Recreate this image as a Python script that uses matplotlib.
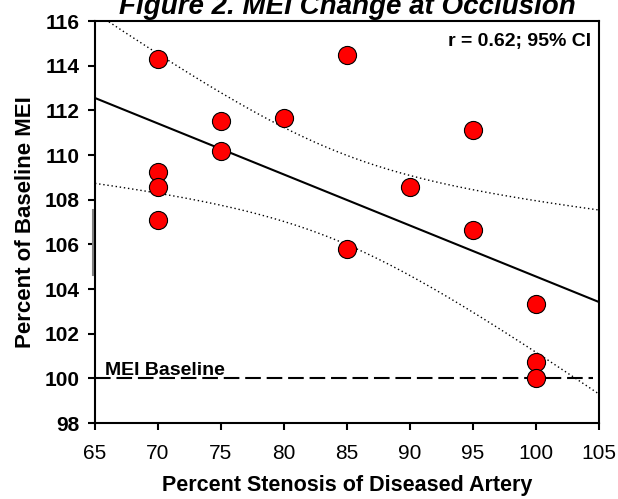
import numpy as np
import matplotlib
matplotlib.use('Agg')
import matplotlib.pyplot as plt
from matplotlib.lines import Line2D

plt.rcParams['font.family'] = ['Liberation Sans', 'DejaVu Sans']

# --- data ---
stenosis = [70, 70, 70, 70, 75, 75, 80, 85, 85, 90, 95, 95, 100, 100, 100]
mei_pct = [114.3, 109.24, 108.56, 107.08, 111.54, 110.18, 111.66, 114.48,
           105.8, 108.56, 111.12, 106.65, 103.32, 100.71, 100.0]
baseline = 100
x_ticks = [65, 70, 75, 80, 85, 90, 95, 100, 105]
y_ticks = [98, 100, 102, 104, 106, 108, 110, 112, 114, 116]

# --- linear fit and 95% confidence band ---
x = np.array(stenosis, dtype=float)
y = np.array(mei_pct, dtype=float)
n = len(x)
slope, intercept = np.polyfit(x, y, 1)
resid = y - (slope * x + intercept)
s = np.sqrt(np.sum(resid ** 2) / (n - 2))
sxx = np.sum((x - x.mean()) ** 2)
t_crit = 2.160  # t(0.975, df=13)
xf = np.linspace(65, 105, 200)
yf = slope * xf + intercept
half = t_crit * s * np.sqrt(1.0 / n + (xf - x.mean()) ** 2 / sxx)

fig = plt.figure(figsize=(6.18, 4.99), dpi=100)
ax = fig.add_axes([0.1537, 0.1523, 0.8155, 0.8056])

ax.plot(xf, yf, color='black', lw=1.5, zorder=2)
ax.plot(xf, yf + half, color='black', lw=1.0, ls=(0, (1, 2)), zorder=2)
ax.plot(xf, yf - half, color='black', lw=1.0, ls=(0, (1, 2)), zorder=2)
ax.axhline(baseline, xmin=0, xmax=0.988, color='black', lw=1.5, ls=(0, (7.5, 2.8)), zorder=1)
ax.scatter(x, y, s=170, color='red', edgecolor='black', linewidth=0.8, zorder=3, clip_on=False)

ax.text(65.8, 100.13, 'MEI Baseline', fontsize=14, fontweight='bold', va='baseline')
ax.text(104.37, 114.9, 'r = 0.62; 95% CI', fontsize=14, fontweight='bold', ha='right', va='baseline')

ax.set_xlim(65, 105)
ax.set_ylim(98, 116)
ax.set_xticks(x_ticks)
ax.set_yticks(y_ticks)
ax.tick_params(direction='out', length=5, width=1.5, labelsize=15)
ax.tick_params(axis='x', pad=10)
ax.tick_params(axis='y', pad=6)
for lab in ax.get_yticklabels():
    lab.set_fontweight('bold')
for sp in ax.spines.values():
    sp.set_linewidth(1.5)

ax.set_xlabel('Percent Stenosis of Diseased Artery', fontsize=15.5, fontweight='bold', labelpad=9)
ax.set_ylabel('Percent of Baseline MEI', fontsize=16, fontweight='bold', labelpad=6)

fig.text(0.562, 0.972, 'Figure 2. MEI Change at Occlusion', fontsize=20,
         fontweight='bold', fontstyle='italic', ha='center', va='baseline')

# small grey mark beside the y axis seen in the original
fig.add_artist(Line2D([0.1505, 0.1505], [0.449, 0.579], color='grey', lw=1.5))

fig.savefig('out.png', dpi=100)
